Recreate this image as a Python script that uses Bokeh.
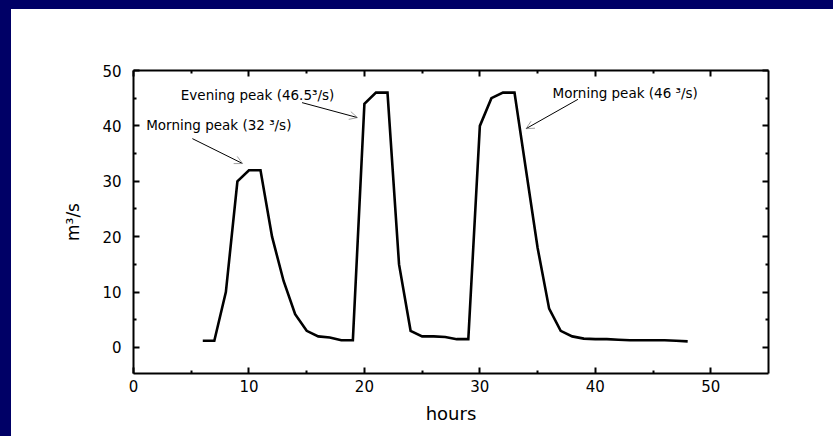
from bokeh.plotting import figure
from bokeh.models import LinearAxis, FixedTicker, Range1d, Arrow, OpenHead, Label
from bokeh.embed import file_html
from bokeh.resources import INLINE

# ---- data ----
hours = [6, 7, 8, 9, 10, 11, 12, 13, 14, 15, 16, 17, 18, 19,
         20, 21, 22, 23, 24, 25, 26, 27, 28, 29,
         30, 31, 32, 33, 34, 35, 36, 37, 38, 39,
         40, 41, 42, 43, 44, 45, 46, 47, 48]
flow = [1.2, 1.2, 10, 30, 32, 32, 20, 12, 6, 3, 2, 1.8, 1.3, 1.3,
        44, 46, 46, 15, 3, 2, 2, 1.9, 1.5, 1.5,
        40, 45, 46, 46, 32, 18, 7, 3, 2, 1.6,
        1.5, 1.5, 1.4, 1.3, 1.3, 1.3, 1.3, 1.2, 1.1]

x_major = [0, 10, 20, 30, 40, 50]
x_minor = [5, 15, 25, 35, 45]
y_major = [0, 10, 20, 30, 40, 50]
y_minor = [5, 15, 25, 35, 45]

note_texts = ["Morning peak (32 \u00b3/s)", "Evening peak (46.5\u00b3/s)", "Morning peak (46 \u00b3/s)"]
note_x = [1.1, 4.1, 36.3]
note_y = [40.1, 45.5, 46.0]
arrow_x0 = [5.1, 14.6, 38.5]
arrow_y0 = [37.7, 44.2, 44.8]
arrow_x1 = [9.45, 19.4, 34.0]
arrow_y1 = [33.2, 41.5, 39.5]

FONT = "DejaVu Sans"

p = figure(width=822, height=427, output_backend="svg", toolbar_location=None,
           x_range=Range1d(0, 55), y_range=Range1d(-4.7, 50),
           x_axis_location=None, y_axis_location=None,
           min_border_left=122, min_border_right=65, min_border_top=61, min_border_bottom=63,
           outline_line_color=None, background_fill_color="white", border_fill_color="white")
p.grid.visible = False


def make_axis(major, minor, labels, **kw):
    ax = LinearAxis(ticker=FixedTicker(ticks=major, minor_ticks=minor), **kw)
    ax.axis_line_width = 2
    ax.axis_line_color = "black"
    ax.major_tick_in = 6
    ax.major_tick_out = 0
    ax.minor_tick_in = 3
    ax.minor_tick_out = 0
    ax.major_tick_line_width = 2
    ax.minor_tick_line_width = 2
    ax.major_tick_line_color = "black"
    ax.minor_tick_line_color = "black"
    ax.major_label_text_font = FONT
    ax.major_label_text_font_size = "15px"
    if labels:
        ax.major_label_text_color = "black"
    else:
        ax.major_label_text_color = None
    return ax


xb = make_axis(x_major, x_minor, True, axis_label="hours")
xb.major_label_standoff = 6
xb.axis_label_text_font = FONT
xb.axis_label_text_font_size = "18px"
xb.axis_label_text_font_style = "normal"
xb.axis_label_text_color = "black"
xb.axis_label_standoff = 8
p.add_layout(xb, "below")

yl = make_axis(y_major, y_minor, True, axis_label="m\u00b3/s")
yl.major_label_standoff = 12
yl.axis_label_text_font = FONT
yl.axis_label_text_font_size = "17px"
yl.axis_label_text_font_style = "normal"
yl.axis_label_text_color = "black"
yl.axis_label_standoff = 16
p.add_layout(yl, "left")

p.add_layout(make_axis(x_major, x_minor, False), "above")
p.add_layout(make_axis(y_major, y_minor, False), "right")

p.line(hours, flow, line_color="black", line_width=2.6, line_join="miter")

for t, tx, ty in zip(note_texts, note_x, note_y):
    p.add_layout(Label(x=tx, y=ty, text=t, text_font=FONT, text_font_size="13.5px",
                       text_color="black", text_baseline="middle", text_align="left"))

for xs, ys, xe, ye in zip(arrow_x0, arrow_y0, arrow_x1, arrow_y1):
    p.add_layout(Arrow(x_start=xs, y_start=ys, x_end=xe, y_end=ye,
                       line_color="black", line_width=1,
                       end=OpenHead(size=8, line_color="#888888", line_width=0.8)))

template = """
{% block postamble %}
<style>
html { margin: 0 !important; padding: 0 !important; background: white; overflow: hidden; }
body { margin: 0 !important; padding: 0 !important; background: white; overflow: hidden;
       box-sizing: border-box; border-top: 9px solid #000066; border-left: 11px solid #000066; }
</style>
{% endblock %}
"""

open("out.html", "w").write(file_html(p, INLINE, template=template))
